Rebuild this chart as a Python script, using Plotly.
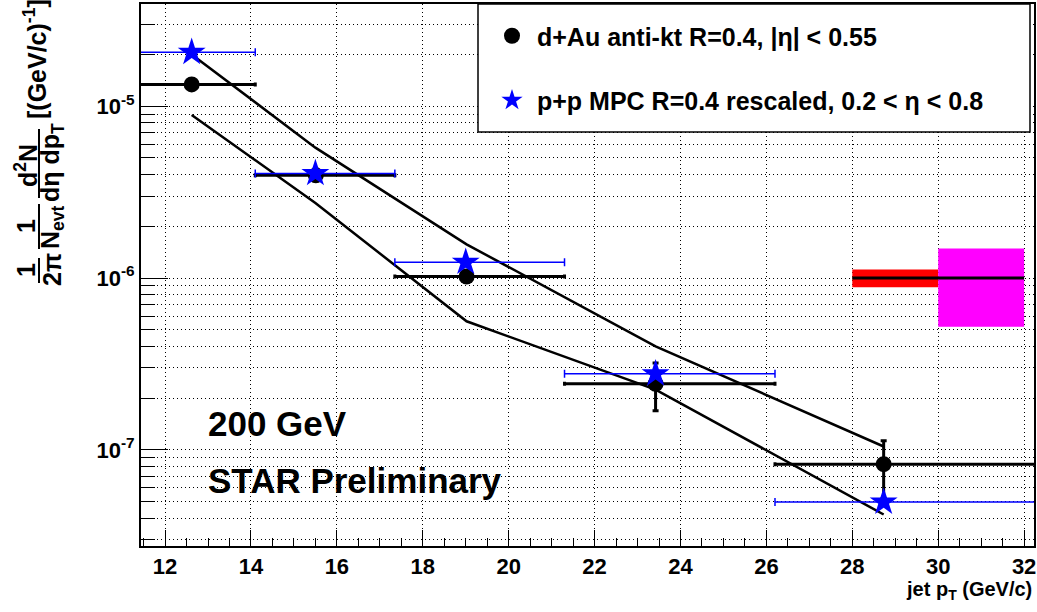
import plotly.graph_objects as go

# ---------------- data ----------------
x_dau = [12.62, 15.51, 19.02, 23.42, 28.73]
y_dau = [1.34e-5, 3.96e-6, 1.02e-6, 2.42e-7, 8.25e-8]
y_dau_err_up = [4e-7, 1.5e-7, 4e-8, 7.8e-8, 3.05e-8]
y_dau_err_dn = [4e-7, 1.5e-7, 4e-8, 7.3e-8, 3.05e-8]

x_pp = [12.62, 15.50, 19.00, 23.42, 28.73]
y_pp = [2.06e-5, 4.06e-6, 1.236e-6, 2.77e-7, 4.96e-8]

bin_lo = [11.1, 14.1, 17.35, 21.3, 26.2]
bin_hi = [14.1, 17.35, 21.3, 26.2, 34.0]

x_band = [12.62, 15.50, 19.02, 23.42, 28.73]
y_band_up = [2.0e-5, 5.74e-6, 1.57e-6, 4.0e-7, 1.045e-7]
y_band_lo = [8.9e-6, 2.73e-6, 5.6e-7, 2.24e-7, 4.2e-8]

norm_val = 1.0e-6
red_x = [28.0, 30.0]
red_y = [8.83e-7, 1.12e-6]
mag_x = [30.0, 32.0]
mag_y = [5.21e-7, 1.486e-6]

x_ticks = [12, 14, 16, 18, 20, 22, 24, 26, 28, 30, 32]
y_ticks = [1e-7, 1e-6, 1e-5]
y_ticktext = ["10<sup>-7</sup>", "10<sup>-6</sup>", "10<sup>-5</sup>"]
y_minor = [m * 10.0 ** e for e in (-8, -7, -6, -5) for m in range(2, 10)]

# ---------------- layout helpers ----------------
W, H = 1037, 612
ML, MR, MT, MB = 141, 3, 4, 66
PW, PH = W - ML - MR, H - MT - MB


def px_x(px):
    return (px - ML) / PW


def px_y(py):
    return (H - MB - py) / PH


FONT = "Liberation Sans, Arial, Helvetica, sans-serif"


def bfont(size, color="black"):
    return dict(family=FONT, size=size, color=color, weight=700)


err_minus = [x - lo for x, lo in zip(x_dau, bin_lo)]
err_plus = [hi - x for x, hi in zip(x_dau, bin_hi)]
err_minus_pp = [x - lo for x, lo in zip(x_pp, bin_lo)]
err_plus_pp = [hi - x for x, hi in zip(x_pp, bin_hi)]

fig = go.Figure()

# normalisation uncertainty boxes
fig.add_trace(go.Scatter(
    x=[red_x[0], red_x[1], red_x[1], red_x[0], red_x[0]],
    y=[red_y[0], red_y[0], red_y[1], red_y[1], red_y[0]],
    mode="lines", fill="toself", fillcolor="rgb(255,0,0)",
    line=dict(width=0, color="rgb(255,0,0)"), showlegend=False, hoverinfo="skip"))
fig.add_trace(go.Scatter(
    x=[mag_x[0], mag_x[1], mag_x[1], mag_x[0], mag_x[0]],
    y=[mag_y[0], mag_y[0], mag_y[1], mag_y[1], mag_y[0]],
    mode="lines", fill="toself", fillcolor="rgb(255,0,255)",
    line=dict(width=0, color="rgb(255,0,255)"), showlegend=False, hoverinfo="skip"))
fig.add_trace(go.Scatter(
    x=[red_x[0], mag_x[1]], y=[norm_val, norm_val], mode="lines",
    line=dict(color="black", width=3), showlegend=False, hoverinfo="skip"))

# band lines
fig.add_trace(go.Scatter(x=x_band, y=y_band_up, mode="lines",
                         line=dict(color="black", width=2.5), showlegend=False))
fig.add_trace(go.Scatter(x=x_band, y=y_band_lo, mode="lines",
                         line=dict(color="black", width=2.5), showlegend=False))

# d+Au points
fig.add_trace(go.Scatter(
    x=x_dau, y=y_dau, mode="markers",
    name="d+Au anti-kt R=0.4, |η| < 0.55", legendgroup="a",
    marker=dict(symbol="circle", size=16, color="black"),
    error_x=dict(type="data", symmetric=False, array=err_plus, arrayminus=err_minus,
                 color="black", thickness=3, width=2),
    error_y=dict(type="data", symmetric=False, array=y_dau_err_up, arrayminus=y_dau_err_dn,
                 color="black", thickness=3, width=3)))

# p+p points
fig.add_trace(go.Scatter(
    x=x_pp, y=y_pp, mode="markers",
    name="p+p MPC R=0.4 rescaled, 0.2 < η < 0.8", legendgroup="b",
    marker=dict(symbol="star", size=21, color="rgb(0,0,255)"),
    error_x=dict(type="data", symmetric=False, array=err_plus_pp, arrayminus=err_minus_pp,
                 color="rgb(0,0,255)", thickness=1.5, width=4)))

grid_dash = "1px,3px"

fig.update_xaxes(
    range=[11.44, 32.23], tickmode="array", tickvals=x_ticks,
    ticks="inside", ticklen=16, tickwidth=1, tickcolor="black",
    showline=True, linewidth=2, linecolor="black", mirror=True,
    showgrid=True, gridcolor="black", gridwidth=1, griddash=grid_dash,
    zeroline=False, tickfont=bfont(22),
    minor=dict(dtick=0.5, tick0=12, ticks="inside", ticklen=8, tickcolor="black", showgrid=False),
)
fig.update_yaxes(
    type="log", range=[-7.56, -4.405], tickmode="array", tickvals=y_ticks, ticktext=y_ticktext,
    ticks="inside", ticklen=27, tickwidth=1, tickcolor="black",
    showline=True, linewidth=2, linecolor="black", mirror=True,
    showgrid=True, gridcolor="black", gridwidth=1, griddash=grid_dash,
    zeroline=False, tickfont=bfont(22),
    minor=dict(tickmode="array", tickvals=y_minor, ticks="inside", ticklen=14,
               tickcolor="black", showgrid=True, gridcolor="black", gridwidth=1,
               griddash=grid_dash),
)

shapes = []
# legend frame
shapes.append(dict(type="rect", xref="paper", yref="paper",
                   x0=px_x(478), x1=px_x(1030), y0=px_y(132), y1=px_y(4),
                   fillcolor="white", line=dict(color="black", width=1.5), layer="above"))

annotations = []
# texts in the plot
annotations.append(dict(text="200 GeV", x=px_x(206), y=px_y(424), xref="paper", yref="paper",
                        xanchor="left", yanchor="middle", showarrow=False, font=bfont(35)))
annotations.append(dict(text="STAR Preliminary", x=px_x(206), y=px_y(480), xref="paper", yref="paper",
                        xanchor="left", yanchor="middle", showarrow=False, font=bfont(35)))
# x title
annotations.append(dict(text="jet p<sub>T</sub> (GeV/c)", x=px_x(1034), y=px_y(590),
                        xref="paper", yref="paper", xanchor="right", yanchor="middle",
                        showarrow=False, font=bfont(20)))

# y title built from rotated pieces (fractions)
def rot(text, xc, yc, size=25):
    annotations.append(dict(text=text, x=px_x(xc), y=px_y(yc), xref="paper", yref="paper",
                            xanchor="center", yanchor="middle", textangle=-90,
                            showarrow=False, font=bfont(size)))


def frac_line(xc, y0, y1):
    shapes.append(dict(type="line", xref="paper", yref="paper",
                       x0=px_x(xc), x1=px_x(xc), y0=px_y(y0), y1=px_y(y1),
                       line=dict(color="black", width=2), layer="above"))


rot("1", 26, 270)
rot("2π", 52, 270)
frac_line(39, 258, 283)
rot("1", 26, 226)
rot("N<sub>evt</sub>", 52, 227)
frac_line(39, 204, 249)
rot("d<sup>2</sup>N", 26, 165)
rot("dη dp<sub>T</sub>", 52, 163)
frac_line(39, 129, 198)
rot("[(GeV/c)<sup>-1</sup>]", 35, 59)

fig.update_layout(
    width=W, height=H, margin=dict(l=ML, r=MR, t=MT, b=MB, autoexpand=False),
    paper_bgcolor="white", plot_bgcolor="white",
    showlegend=True,
    legend=dict(x=px_x(487), y=px_y(13), xanchor="left", yanchor="top",
                bgcolor="rgba(0,0,0,0)", borderwidth=0, font=bfont(25),
                tracegroupgap=29, itemwidth=40, traceorder="grouped"),
    shapes=shapes, annotations=annotations,
)

fig.write_html("out.html", config={"displayModeBar": False},
               post_script="document.body.style.margin='0';document.body.style.overflow='hidden';")
